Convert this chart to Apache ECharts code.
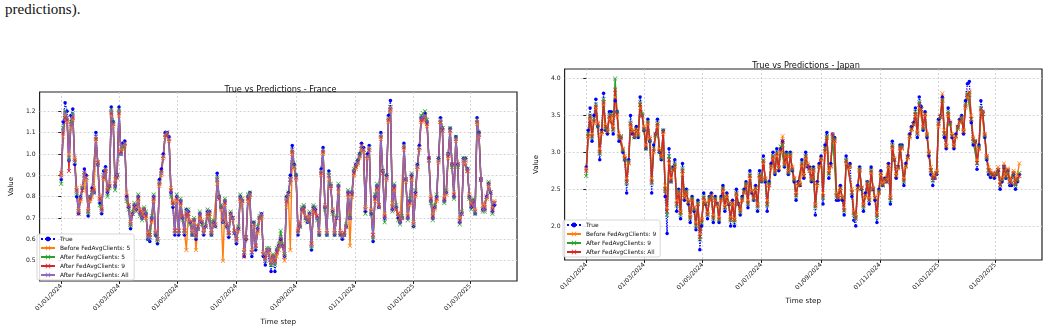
<!DOCTYPE html>
<html lang="en">
<head>
<meta charset="UTF-8">
<title>True vs Predictions - France / Japan</title>
<script src="https://cdn.jsdelivr.net/npm/echarts@6/dist/echarts.min.js"></script>
<style>
    body { margin: 0; background: #fff; }
    #page { position: relative; width: 1050px; height: 331px; overflow: hidden; background: #fff; }
    .txt { position: absolute; font-family: "Liberation Serif", serif; font-size: 15px; line-height: 1; color: #111; white-space: nowrap; }
    #chartFrance { position: absolute; left: 0; top: 0; width: 525px; height: 331px; }
    #chartJapan { position: absolute; left: 525px; top: 0; width: 525px; height: 331px; }
</style>
</head>
<body>
<div id="page">
    <div class="txt" style="left:5px;top:2px;">predictions).</div>
    <div class="txt" style="left:532px;top:-12px;">scenarios.</div>
    <div id="chartFrance"></div>
    <div id="chartJapan"></div>
</div>
<script type="text/javascript">
    // one point every 2 days, starting 01/01/2024
    var stepDays = 2;
    var tickLabels = ['01/01/2024', '01/03/2024', '01/05/2024', '01/07/2024',
        '01/09/2024', '01/11/2024', '01/01/2025', '01/03/2025'];

    // France
    var franceTrue = [
        0.88,1.15,1.24,1.20,0.97,1.18,1.21,0.95,0.80,0.72,
        0.80,0.84,0.93,0.90,0.71,0.80,0.84,0.82,1.10,0.95,
        0.77,0.72,0.92,0.94,0.82,0.85,1.22,1.15,0.85,0.90,
        1.22,1.00,1.05,1.06,0.80,0.75,0.65,0.72,0.76,0.74,
        0.80,0.72,0.70,0.74,0.72,0.60,0.59,0.70,0.80,0.62,
        0.58,0.88,0.93,1.00,1.10,1.10,1.08,0.82,0.75,0.62,
        0.80,0.62,0.78,0.70,0.62,0.74,0.73,0.68,0.62,0.69,
        0.60,0.65,0.72,0.68,0.62,0.66,0.73,0.73,0.62,0.68,
        0.66,0.91,0.80,0.75,0.68,0.78,0.66,0.61,0.72,0.70,
        0.63,0.58,0.65,0.80,0.78,0.52,0.60,0.80,0.82,0.52,
        0.68,0.55,0.65,0.70,0.72,0.52,0.48,0.55,0.55,0.45,
        0.52,0.45,0.55,0.57,0.60,0.57,0.52,0.80,0.82,0.90,
        1.04,0.95,0.90,0.62,0.66,0.74,0.75,0.70,0.68,0.72,
        0.55,0.75,0.74,0.70,0.62,0.93,1.03,0.75,0.62,0.92,
        0.85,0.73,0.62,0.70,0.85,0.62,0.60,0.62,0.66,0.82,
        0.70,0.82,0.92,0.95,0.97,1.00,1.05,1.03,0.73,1.00,
        1.04,0.72,0.59,0.80,0.85,0.75,1.10,0.92,0.70,0.90,
        1.18,1.25,0.74,0.85,0.75,0.70,0.68,0.70,1.05,0.88,
        0.70,0.78,0.90,0.66,0.82,0.95,1.04,1.17,1.17,1.19,
        1.15,0.98,0.78,0.70,0.75,0.80,0.98,1.17,1.12,0.78,
        0.82,1.00,1.12,0.95,0.80,1.08,0.95,0.68,0.72,0.98,
        0.98,0.93,0.80,0.75,0.78,0.72,1.17,1.10,0.88,0.74,
        0.74,0.80,0.86,0.82,0.73,0.76];
    var franceBefore5 = [
        0.90,1.08,1.18,1.15,1.00,1.12,1.16,0.98,0.84,0.74,
        0.78,0.85,0.88,0.88,0.74,0.78,0.80,0.84,1.06,0.96,
        0.80,0.75,0.88,0.92,0.84,0.86,1.18,1.13,0.88,0.90,
        1.18,1.02,1.02,1.04,0.82,0.76,0.68,0.72,0.74,0.75,
        0.78,0.74,0.72,0.73,0.70,0.63,0.62,0.68,0.78,0.64,
        0.60,0.85,0.90,0.98,1.08,1.09,1.06,0.84,0.78,0.64,
        0.78,0.64,0.76,0.71,0.64,0.55,0.72,0.69,0.64,0.68,
        0.55,0.66,0.70,0.69,0.64,0.66,0.71,0.72,0.64,0.67,
        0.67,0.86,0.80,0.74,0.50,0.76,0.67,0.63,0.71,0.69,
        0.64,0.60,0.64,0.78,0.77,0.55,0.60,0.78,0.80,0.55,
        0.66,0.57,0.63,0.69,0.70,0.54,0.51,0.55,0.54,0.50,
        0.52,0.50,0.52,0.55,0.58,0.57,0.50,0.75,0.80,0.55,
        1.00,0.93,0.88,0.65,0.67,0.73,0.74,0.71,0.69,0.71,
        0.58,0.73,0.73,0.70,0.64,0.90,1.00,0.76,0.64,0.88,
        0.84,0.74,0.64,0.70,0.82,0.64,0.62,0.63,0.66,0.80,
        0.57,0.80,0.90,0.93,0.95,0.98,1.02,1.01,0.75,0.98,
        1.02,0.74,0.62,0.78,0.83,0.76,1.07,0.92,0.72,0.88,
        1.15,1.20,0.77,0.83,0.74,0.72,0.70,0.70,1.02,0.87,
        0.72,0.76,0.88,0.68,0.80,0.93,1.02,1.15,1.15,1.17,
        1.13,0.97,0.80,0.72,0.74,0.78,0.96,1.15,1.12,0.80,
        0.81,0.98,1.10,0.95,0.82,1.06,0.95,0.70,0.72,0.96,
        0.96,0.92,0.81,0.77,0.78,0.74,1.14,1.08,0.88,0.76,
        0.76,0.79,0.85,0.82,0.75,0.78];
    var franceAfter5 = [
        0.86,1.12,1.20,1.17,0.98,1.15,1.19,0.96,0.81,0.73,
        0.80,0.84,0.90,0.89,0.72,0.80,0.82,0.82,1.08,0.95,
        0.76,0.73,0.90,0.93,0.80,0.84,1.21,1.15,0.83,0.90,
        1.21,1.00,1.03,1.05,0.78,0.74,0.66,0.73,0.77,0.73,
        0.81,0.71,0.69,0.75,0.73,0.60,0.61,0.71,0.81,0.62,
        0.59,0.87,0.91,0.99,1.09,1.10,1.07,0.80,0.76,0.63,
        0.81,0.63,0.79,0.69,0.63,0.74,0.74,0.67,0.62,0.70,
        0.61,0.65,0.73,0.67,0.63,0.67,0.74,0.73,0.62,0.69,
        0.66,0.89,0.80,0.76,0.68,0.79,0.66,0.62,0.73,0.70,
        0.63,0.59,0.66,0.81,0.79,0.54,0.61,0.81,0.82,0.54,
        0.68,0.56,0.66,0.71,0.72,0.53,0.50,0.56,0.56,0.48,
        0.53,0.48,0.56,0.58,0.64,0.58,0.53,0.80,0.82,0.88,
        1.02,0.95,0.90,0.63,0.66,0.75,0.76,0.69,0.68,0.73,
        0.56,0.76,0.75,0.69,0.62,0.92,1.02,0.74,0.62,0.91,
        0.86,0.72,0.62,0.71,0.86,0.62,0.61,0.62,0.67,0.83,
        0.71,0.82,0.93,0.95,0.97,1.00,1.04,1.02,0.72,0.99,
        1.03,0.72,0.60,0.81,0.86,0.75,1.09,0.92,0.68,0.90,
        1.17,1.22,0.73,0.86,0.76,0.69,0.67,0.71,1.04,0.88,
        0.69,0.79,0.91,0.66,0.83,0.95,1.03,1.18,1.19,1.20,
        1.16,0.97,0.77,0.69,0.76,0.81,0.98,1.16,1.12,0.77,
        0.83,1.00,1.12,0.94,0.79,1.08,0.94,0.67,0.73,0.98,
        0.98,0.93,0.79,0.74,0.79,0.72,1.16,1.10,0.88,0.73,
        0.73,0.80,0.87,0.82,0.72,0.77];
    var franceAfter9 = [
        0.91,1.10,1.17,1.16,0.92,1.14,1.17,0.97,0.83,0.72,
        0.79,0.83,0.91,0.89,0.73,0.79,0.83,0.83,1.07,0.96,
        0.79,0.74,0.89,0.92,0.83,0.85,1.19,1.14,0.86,0.89,
        1.19,1.01,1.04,1.05,0.80,0.76,0.67,0.72,0.75,0.74,
        0.79,0.73,0.71,0.74,0.71,0.62,0.62,0.69,0.79,0.63,
        0.60,0.86,0.92,0.99,1.09,1.09,1.07,0.83,0.77,0.64,
        0.79,0.64,0.77,0.71,0.64,0.72,0.72,0.68,0.63,0.69,
        0.62,0.66,0.71,0.68,0.63,0.66,0.72,0.72,0.63,0.68,
        0.67,0.88,0.79,0.75,0.69,0.77,0.67,0.63,0.72,0.70,
        0.64,0.60,0.65,0.79,0.78,0.52,0.61,0.79,0.81,0.54,
        0.67,0.57,0.64,0.70,0.71,0.53,0.51,0.55,0.55,0.49,
        0.52,0.50,0.54,0.57,0.60,0.57,0.52,0.78,0.81,0.88,
        1.01,0.94,0.89,0.64,0.67,0.74,0.74,0.70,0.69,0.72,
        0.58,0.74,0.73,0.71,0.63,0.91,1.01,0.75,0.63,0.90,
        0.85,0.73,0.63,0.70,0.84,0.63,0.62,0.63,0.66,0.81,
        0.70,0.81,0.91,0.94,0.96,0.99,1.04,1.02,0.74,0.99,
        1.02,0.73,0.62,0.79,0.84,0.76,1.08,0.91,0.71,0.89,
        1.16,1.21,0.75,0.84,0.74,0.72,0.69,0.70,1.03,0.88,
        0.71,0.77,0.89,0.67,0.81,0.94,1.03,1.16,1.16,1.18,
        1.14,0.98,0.79,0.71,0.75,0.79,0.97,1.15,1.11,0.79,
        0.82,0.99,1.11,0.95,0.81,1.07,0.95,0.69,0.72,0.97,
        0.97,0.92,0.80,0.76,0.78,0.73,1.15,1.09,0.88,0.74,
        0.75,0.80,0.86,0.82,0.74,0.77];
    var franceAfterAll = [
        0.89,1.11,1.19,1.17,0.97,1.14,1.18,0.96,0.82,0.73,
        0.80,0.84,0.90,0.89,0.73,0.80,0.82,0.82,1.08,0.95,
        0.78,0.73,0.90,0.93,0.82,0.85,1.20,1.14,0.85,0.90,
        1.20,1.00,1.04,1.05,0.79,0.75,0.67,0.72,0.76,0.74,
        0.80,0.72,0.70,0.74,0.72,0.61,0.61,0.70,0.80,0.63,
        0.60,0.87,0.91,0.99,1.09,1.10,1.07,0.82,0.76,0.63,
        0.80,0.63,0.78,0.70,0.63,0.73,0.73,0.68,0.63,0.69,
        0.61,0.65,0.72,0.68,0.63,0.66,0.73,0.73,0.63,0.68,
        0.66,0.88,0.80,0.75,0.68,0.78,0.66,0.62,0.72,0.70,
        0.63,0.59,0.65,0.80,0.78,0.54,0.61,0.80,0.81,0.54,
        0.67,0.56,0.65,0.70,0.72,0.53,0.50,0.55,0.55,0.49,
        0.52,0.49,0.55,0.57,0.61,0.57,0.52,0.79,0.81,0.88,
        1.02,0.94,0.89,0.63,0.66,0.74,0.75,0.70,0.68,0.72,
        0.57,0.75,0.74,0.70,0.63,0.92,1.02,0.75,0.63,0.90,
        0.85,0.73,0.63,0.70,0.85,0.63,0.61,0.62,0.66,0.82,
        0.70,0.82,0.92,0.95,0.96,0.99,1.04,1.02,0.74,0.99,
        1.03,0.73,0.61,0.80,0.85,0.75,1.09,0.92,0.70,0.89,
        1.17,1.22,0.74,0.85,0.75,0.71,0.68,0.70,1.04,0.88,
        0.70,0.78,0.90,0.67,0.82,0.94,1.03,1.17,1.17,1.18,
        1.15,0.97,0.78,0.70,0.75,0.80,0.97,1.16,1.12,0.78,
        0.82,1.00,1.11,0.95,0.80,1.07,0.95,0.68,0.72,0.97,
        0.97,0.93,0.80,0.75,0.78,0.73,1.16,1.09,0.88,0.74,
        0.74,0.80,0.86,0.82,0.73,0.77];
    var franceYTicks = [0.5, 0.6, 0.7, 0.8, 0.9, 1.0, 1.1, 1.2];

    // Japan
    var japanTrue = [
        2.80,3.30,3.60,3.15,3.50,3.72,3.35,2.90,3.30,3.80,
        3.30,3.25,3.55,3.55,3.25,3.70,3.55,3.15,3.20,3.00,
        2.90,2.45,2.90,3.50,3.25,3.20,3.35,3.20,3.75,3.50,
        3.30,3.05,3.45,3.15,2.45,3.10,3.25,3.45,3.00,2.90,
        3.30,2.40,1.90,3.05,2.60,2.80,2.90,2.20,2.50,2.10,
        2.85,2.35,2.50,2.30,2.05,2.40,2.20,1.95,2.35,1.68,
        2.00,2.45,2.30,2.10,2.40,2.45,2.05,2.40,2.30,2.05,
        2.40,2.55,2.20,2.45,2.30,2.00,2.35,2.00,2.50,2.30,
        2.15,2.40,2.50,2.60,2.25,2.75,2.45,2.35,2.55,2.20,
        2.75,2.60,2.95,2.60,2.20,2.60,2.85,3.00,2.70,3.05,
        2.75,3.05,3.15,2.80,3.00,2.70,3.00,2.75,2.60,2.35,
        2.60,2.55,2.90,2.65,3.00,2.80,2.80,2.60,2.80,2.15,
        2.60,2.85,2.95,2.30,3.10,3.27,2.65,2.85,3.25,3.20,
        2.35,2.35,2.55,2.35,2.15,2.95,2.80,2.85,2.40,2.08,
        2.00,2.55,2.80,2.50,2.20,2.45,2.60,2.30,2.80,2.50,
        2.35,2.05,2.50,2.75,2.55,2.65,2.60,2.85,2.30,3.15,
        2.90,2.65,2.80,3.10,3.10,2.55,2.85,2.95,3.25,3.35,
        3.40,3.60,3.20,3.75,3.62,3.30,3.55,3.20,2.95,2.70,
        2.55,2.65,2.70,3.45,3.50,3.75,3.20,3.05,3.60,3.40,
        3.20,3.05,3.25,3.35,3.45,3.50,3.25,3.70,3.93,3.96,
        3.40,3.10,3.15,2.77,3.10,3.70,3.55,3.20,2.90,2.70,
        2.66,2.70,2.65,2.70,2.75,2.50,2.60,2.80,2.65,2.75,
        2.55,2.55,2.70,2.50,2.60,2.70];
    var japanBefore9 = [
        2.78,3.20,3.45,3.25,3.40,3.60,3.40,3.05,3.25,3.65,
        3.38,3.30,3.45,3.50,3.35,3.75,3.50,3.25,3.20,3.05,
        2.95,2.65,2.85,3.35,3.30,3.22,3.30,3.25,3.60,3.50,
        3.35,3.10,3.38,3.20,2.65,3.00,3.25,3.35,3.05,2.95,
        3.25,2.55,2.25,2.85,2.65,2.75,2.80,2.35,2.45,2.20,
        2.70,2.40,2.45,2.35,2.15,2.35,2.25,2.05,2.30,1.90,
        2.10,2.35,2.32,2.18,2.35,2.40,2.15,2.35,2.28,2.12,
        2.35,2.48,2.28,2.40,2.32,2.12,2.30,2.10,2.42,2.30,
        2.22,2.35,2.45,2.55,2.35,2.65,2.48,2.38,2.50,2.30,
        2.65,2.62,2.85,2.65,2.35,2.55,2.80,2.92,2.75,2.95,
        2.80,3.00,3.22,2.85,2.95,2.75,2.95,2.80,2.65,2.45,
        2.55,2.58,2.82,2.70,2.92,2.85,2.75,2.65,2.75,2.30,
        2.55,2.80,2.90,2.45,3.00,3.20,2.75,2.80,3.25,3.15,
        2.45,2.40,2.50,2.40,2.25,2.85,2.78,2.80,2.50,2.20,
        2.15,2.50,2.75,2.52,2.30,2.40,2.58,2.38,2.72,2.52,
        2.40,2.18,2.45,2.70,2.58,2.62,2.62,2.80,2.40,3.05,
        2.92,2.70,2.78,3.05,3.05,2.65,2.80,2.92,3.20,3.30,
        3.38,3.50,3.28,3.60,3.58,3.35,3.50,3.25,3.00,2.80,
        2.70,2.68,2.75,3.35,3.50,3.80,3.30,3.10,3.50,3.40,
        3.25,3.10,3.20,3.35,3.40,3.45,3.30,3.60,3.75,3.80,
        3.50,3.20,3.15,2.90,3.05,3.55,3.55,3.25,2.95,2.80,
        2.75,2.72,2.70,2.72,2.80,2.60,2.65,2.85,2.70,2.78,
        2.62,2.60,2.75,2.60,2.70,2.85];
    var japanAfter9 = [
        2.68,3.25,3.50,3.20,3.45,3.65,3.35,2.98,3.28,3.72,
        3.32,3.28,3.50,3.52,3.30,4.00,3.55,3.20,3.22,3.02,
        2.90,2.58,2.88,3.40,3.28,3.20,3.32,3.22,3.68,3.52,
        3.30,3.05,3.42,3.15,2.58,3.05,3.22,3.40,3.00,2.92,
        3.30,2.48,2.15,2.95,2.60,2.78,2.85,2.28,2.48,2.15,
        2.78,2.38,2.48,2.32,2.10,2.38,2.22,2.00,2.32,1.82,
        2.05,2.40,2.30,2.15,2.38,2.42,2.10,2.38,2.30,2.08,
        2.38,2.52,2.25,2.42,2.30,2.08,2.32,2.05,2.45,2.30,
        2.18,2.38,2.48,2.58,2.30,2.70,2.46,2.36,2.52,2.25,
        2.70,2.60,2.90,2.62,2.28,2.58,2.82,2.95,2.72,3.00,
        2.78,3.08,3.10,2.82,2.98,2.72,2.98,2.76,2.62,2.40,
        2.58,2.56,2.86,2.68,2.95,2.82,2.78,2.62,2.78,2.25,
        2.58,2.82,2.92,2.38,3.05,3.22,2.70,2.82,3.20,3.18,
        2.40,2.38,2.52,2.38,2.20,2.90,2.80,2.82,2.45,2.15,
        2.10,2.52,2.78,2.50,2.25,2.42,2.60,2.35,2.76,2.50,
        2.38,2.12,2.48,2.72,2.55,2.64,2.60,2.82,2.35,3.10,
        2.90,2.68,2.80,3.08,3.08,2.60,2.82,2.94,3.22,3.32,
        3.38,3.55,3.25,3.68,3.58,3.32,3.52,3.22,2.98,2.75,
        2.62,2.66,2.72,3.40,3.48,3.70,3.25,3.08,3.55,3.38,
        3.22,3.08,3.22,3.32,3.42,3.48,3.28,3.65,3.80,3.78,
        3.45,3.15,3.15,2.85,3.08,3.60,3.52,3.22,2.92,2.75,
        2.70,2.70,2.68,2.70,2.76,2.55,2.62,2.80,2.66,2.74,
        2.60,2.58,2.70,2.55,2.62,2.72];
    var japanAfterAll = [
        2.75,3.22,3.48,3.22,3.42,3.62,3.38,3.00,3.28,3.68,
        3.35,3.28,3.48,3.50,3.32,3.85,3.52,3.22,3.20,3.04,
        2.92,2.60,2.86,3.38,3.28,3.22,3.32,3.24,3.65,3.50,
        3.32,3.08,3.40,3.18,2.60,3.02,3.24,3.38,3.02,2.94,
        3.28,2.50,2.20,2.90,2.62,2.76,2.82,2.30,2.46,2.18,
        2.75,2.38,2.46,2.33,2.12,2.36,2.24,2.02,2.30,1.85,
        2.08,2.38,2.30,2.16,2.36,2.42,2.12,2.36,2.30,2.10,
        2.36,2.50,2.26,2.42,2.30,2.10,2.32,2.08,2.44,2.30,
        2.20,2.36,2.46,2.56,2.32,2.68,2.46,2.38,2.52,2.28,
        2.68,2.62,2.88,2.64,2.30,2.56,2.82,2.94,2.74,2.98,
        2.78,3.04,3.15,2.84,2.96,2.74,2.96,2.78,2.64,2.42,
        2.58,2.56,2.84,2.68,2.94,2.82,2.78,2.64,2.76,2.28,
        2.58,2.82,2.92,2.40,3.02,3.20,2.72,2.82,3.22,3.16,
        2.42,2.38,2.52,2.38,2.22,2.88,2.80,2.82,2.46,2.18,
        2.12,2.52,2.76,2.52,2.28,2.42,2.58,2.36,2.74,2.50,
        2.38,2.15,2.46,2.72,2.56,2.64,2.60,2.82,2.38,3.08,
        2.90,2.68,2.80,3.06,3.06,2.62,2.82,2.94,3.22,3.32,
        3.38,3.52,3.26,3.65,3.58,3.34,3.52,3.24,2.98,2.76,
        2.65,2.66,2.72,3.38,3.48,3.72,3.26,3.08,3.52,3.40,
        3.22,3.08,3.22,3.34,3.42,3.46,3.28,3.62,3.78,3.82,
        3.45,3.18,3.14,2.86,3.06,3.58,3.52,3.24,2.94,2.76,
        2.72,2.70,2.68,2.72,2.76,2.56,2.64,2.80,2.68,2.76,
        2.60,2.58,2.72,2.58,2.64,2.68];
    var japanYTicks = [2.0, 2.5, 3.0, 3.5, 4.0];

    var BLUE = '#0000ff', ORANGE = '#ff7f0e', GREEN = '#2ca02c', RED = '#d62728', PURPLE = '#9467bd';
    var X_SYMBOL = 'path://M0,1L1,0L5,4L9,0L10,1L6,5L10,9L9,10L5,6L1,10L0,9L4,5Z';

    function dayOf(s) {
        var p = s.split('/');
        return (Date.UTC(+p[2], +p[1] - 1, +p[0]) - Date.UTC(2024, 0, 1)) / 86400000;
    }
    var tickDays = tickLabels.map(dayOf);

    function toPoints(values) {
        return values.map(function (v, i) { return [i * stepDays, v]; });
    }

    function trueSeries(values) {
        return {
            name: 'True', type: 'line', data: toPoints(values),
            symbol: 'circle', symbolSize: 3.5, showAllSymbol: true,
            lineStyle: { type: 'dotted', width: 1.3, color: BLUE },
            itemStyle: { color: BLUE }
        };
    }
    function predSeries(name, color, values) {
        return {
            name: name, type: 'line', data: toPoints(values),
            symbol: X_SYMBOL, symbolSize: 4.5, showAllSymbol: true,
            lineStyle: { width: 1.4, color: color },
            itemStyle: { color: color }
        };
    }

    function buildOption(c) {
        return {
            animation: false,
            textStyle: { fontFamily: 'DejaVu Sans' },
            title: {
                text: c.title, left: c.gridLeft + c.gridWidth / 2, top: c.titleTop, textAlign: 'center',
                textStyle: { fontSize: 8.2, fontWeight: 'normal', color: '#111', fontFamily: 'DejaVu Sans' }
            },
            legend: {
                orient: 'vertical', left: c.legendLeft, top: c.legendTop,
                itemWidth: 14, itemHeight: 6, itemGap: 3, padding: [2, 4, 2, 3],
                borderColor: '#cccccc', borderWidth: 0.8, borderRadius: 2,
                backgroundColor: 'rgba(255,255,255,0.85)',
                textStyle: { fontSize: 5.9, color: '#111', fontFamily: 'DejaVu Sans' },
                data: c.series.map(function (s) { return s.name; })
            },
            grid: {
                left: c.gridLeft, top: c.gridTop, width: c.gridWidth, height: c.gridHeight,
                show: true, borderColor: '#222', borderWidth: 1.2, backgroundColor: 'transparent'
            },
            xAxis: {
                type: 'value', min: -22.5, max: 473.5,
                name: 'Time step', nameLocation: 'middle', nameGap: 34,
                nameTextStyle: { fontSize: 7.2, color: '#111' },
                axisLine: { show: false },
                axisTick: { customValues: tickDays, length: 3, lineStyle: { color: '#222' } },
                axisLabel: {
                    customValues: tickDays, rotate: 45, fontSize: 6.1, color: '#222', margin: 4,
                    formatter: function (v) { var k = tickDays.indexOf(v); return k < 0 ? '' : tickLabels[k]; }
                },
                splitLine: { show: true, lineStyle: { color: '#c8c8c8', type: [2, 2], width: 0.8 } }
            },
            yAxis: {
                type: 'value', min: c.yMin, max: c.yMax,
                name: 'Value', nameLocation: 'middle', nameGap: 17,
                nameTextStyle: { fontSize: 7, color: '#111' },
                axisLine: { show: false },
                axisTick: { customValues: c.yTicks, length: 3, lineStyle: { color: '#222' } },
                axisLabel: {
                    customValues: c.yTicks, fontSize: 6.1, color: '#222', margin: 4,
                    formatter: function (v) { return v.toFixed(1); }
                },
                splitLine: { show: true, lineStyle: { color: '#c8c8c8', type: [2, 2], width: 0.8 } }
            },
            series: c.series
        };
    }

    var franceChart = echarts.init(document.getElementById('chartFrance'));
    franceChart.setOption(buildOption({
        title: 'True vs Predictions - France',
        gridLeft: 34, gridTop: 92, gridWidth: 483, gridHeight: 192, titleTop: 81,
        legendLeft: 37, legendTop: 234,
        yMin: 0.405, yMax: 1.29, yTicks: franceYTicks,
        series: [
            trueSeries(franceTrue),
            predSeries('Before FedAvgClients: 5', ORANGE, franceBefore5),
            predSeries('After FedAvgClients: 5', GREEN, franceAfter5),
            predSeries('After FedAvgClients: 9', RED, franceAfter9),
            predSeries('After FedAvgClients: All', PURPLE, franceAfterAll)
        ]
    }));

    var japanChart = echarts.init(document.getElementById('chartJapan'));
    japanChart.setOption(buildOption({
        title: 'True vs Predictions - Japan',
        gridLeft: 35, gridTop: 69, gridWidth: 482, gridHeight: 191, titleTop: 57,
        legendLeft: 38, legendTop: 220,
        yMin: 1.54, yMax: 4.13, yTicks: japanYTicks,
        series: [
            trueSeries(japanTrue),
            predSeries('Before FedAvgClients: 9', ORANGE, japanBefore9),
            predSeries('After FedAvgClients: 9', GREEN, japanAfter9),
            predSeries('After FedAvgClients: All', RED, japanAfterAll)
        ]
    }));
</script>
</body>
</html>
